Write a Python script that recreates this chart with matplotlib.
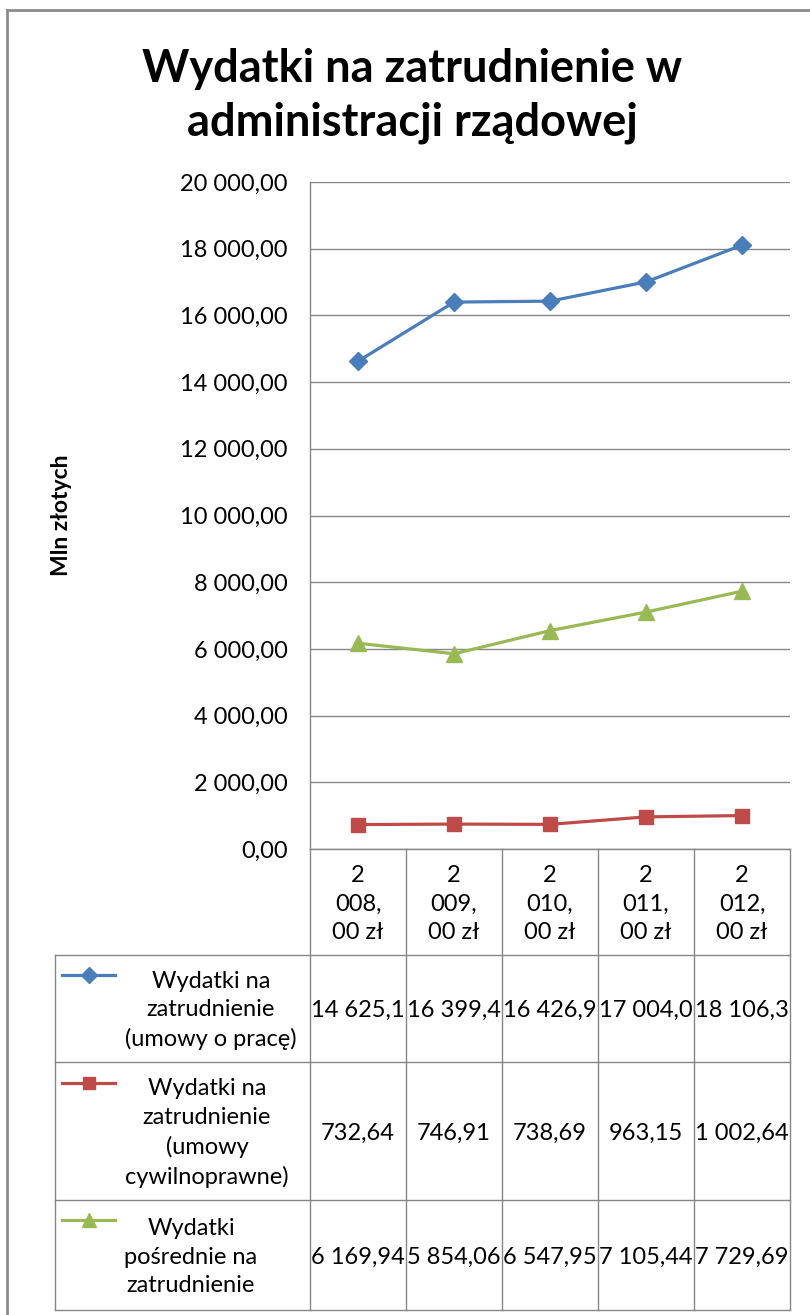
import matplotlib.pyplot as plt
from matplotlib.ticker import FuncFormatter, MultipleLocator
import numpy as np

plt.rcParams['font.family'] = ['Lato', 'DejaVu Sans']

# dane: wydatki w mln zł
years = ['2\n008,\n00 zł', '2\n009,\n00 zł', '2\n010,\n00 zł', '2\n011,\n00 zł', '2\n012,\n00 zł']
umowy_o_prace = [14625.1, 16399.4, 16426.9, 17004.0, 18106.3]
umowy_cywilne = [732.64, 746.91, 738.69, 963.15, 1002.64]
posrednie = [6169.94, 5854.06, 6547.95, 7105.44, 7729.69]

series_names = ['Wydatki na\nzatrudnienie\n(umowy o pracę)',
                'Wydatki na\nzatrudnienie\n(umowy\ncywilnoprawne)',
                'Wydatki\npośrednie na\nzatrudnienie']
series_values = [umowy_o_prace, umowy_cywilne, posrednie]
series_cells = [['14 625,1', '16 399,4', '16 426,9', '17 004,0', '18 106,3'],
                ['732,64', '746,91', '738,69', '963,15', '1 002,64'],
                ['6 169,94', '5 854,06', '6 547,95', '7 105,44', '7 729,69']]
colors = ['#4A7EBB', '#BE4B48', '#98B954']
markers = ['D', 's', '^']
msizes = [9, 10, 11]

W, H = 810, 1315
GRID = '#868686'

fig = plt.figure(figsize=(W / 100, H / 100), dpi=100)

# obszar wykresu (w pikselach)
px_left, px_right, px_top, px_bottom = 310, 790, 182, 849
ax = fig.add_axes([px_left / W, 1 - px_bottom / H,
                   (px_right - px_left) / W, (px_bottom - px_top) / H])

x = np.arange(len(years))
for vals, c, m, ms in zip(series_values, colors, markers, msizes):
    ax.plot(x, vals, color=c, lw=2.3, marker=m, markersize=ms, zorder=3)

ax.set_xlim(-0.5, len(years) - 0.5)
ax.set_ylim(0, 20000)
ax.yaxis.set_major_locator(MultipleLocator(2000))
ax.yaxis.set_major_formatter(FuncFormatter(
    lambda v, p: f'{v:,.2f}'.replace(',', ' ').replace('.', ',')))
ax.grid(axis='y', color=GRID, lw=1)
ax.set_axisbelow(True)
ax.set_xticks([])
ax.tick_params(axis='y', length=0, pad=16, labelsize=17)
for s in ['top', 'right']:
    ax.spines[s].set_visible(False)
for s in ['left', 'bottom']:
    ax.spines[s].set_color(GRID)
    ax.spines[s].set_linewidth(1)

ax.set_ylabel('Mln złotych', fontsize=16.5, fontweight='bold')
ax.yaxis.set_label_coords((72 - px_left) / (px_right - px_left), 0.5)

fig.text(412 / W, 1 - 96 / H, 'Wydatki na zatrudnienie w\nadministracji rządowej',
         ha='center', va='center', fontsize=32.5, fontweight='bold', linespacing=1.33)

# tabela danych pod wykresem
ov = fig.add_axes([0, 0, 1, 1], zorder=2)
ov.set_xlim(0, W)
ov.set_ylim(H, 0)
ov.axis('off')
ov.patch.set_visible(False)

cols = np.linspace(px_left, px_right, len(years) + 1)
centers = (cols[:-1] + cols[1:]) / 2
tab_left = 55
rows = [849, 955, 1062, 1200, 1310]

for cx in cols:
    ov.plot([cx, cx], [rows[0], rows[-1]], color=GRID, lw=1)
ov.plot([tab_left, tab_left], [rows[1], rows[-1]], color=GRID, lw=1)
for ry in rows[1:]:
    ov.plot([tab_left, px_right], [ry, ry], color=GRID, lw=1)

for cx, lab in zip(centers, years):
    ov.text(cx, (rows[0] + rows[1]) / 2 + 2, lab, ha='center', va='center',
            fontsize=17, linespacing=1.45)

# klucz legendy i wartości w wierszach tabeli
name_x = [211, 207, 191]
sample_y = [975, 1083, 1220]
for i in range(3):
    top, bot = rows[i + 1], rows[i + 2]
    mid = (top + bot) / 2
    ov.plot([62, 115], [sample_y[i]] * 2, color=colors[i], lw=2.3)
    ov.plot([88.5], [sample_y[i]], color=colors[i], marker=markers[i],
            markersize=msizes[i] - 1, ls='none')
    ov.text(name_x[i], mid + 2, series_names[i], ha='center', va='center',
            fontsize=17, linespacing=1.45, multialignment='center')
    for cx, cell in zip(centers, series_cells[i]):
        ov.text(cx, mid + 2, cell, ha='center', va='center', fontsize=17)

# ramka wykresu
ov.plot([7, 7], [10, H], color='#8c8c8c', lw=2)
ov.plot([7, W], [10, 10], color='#8c8c8c', lw=2)

fig.savefig('out.png', dpi=100)
